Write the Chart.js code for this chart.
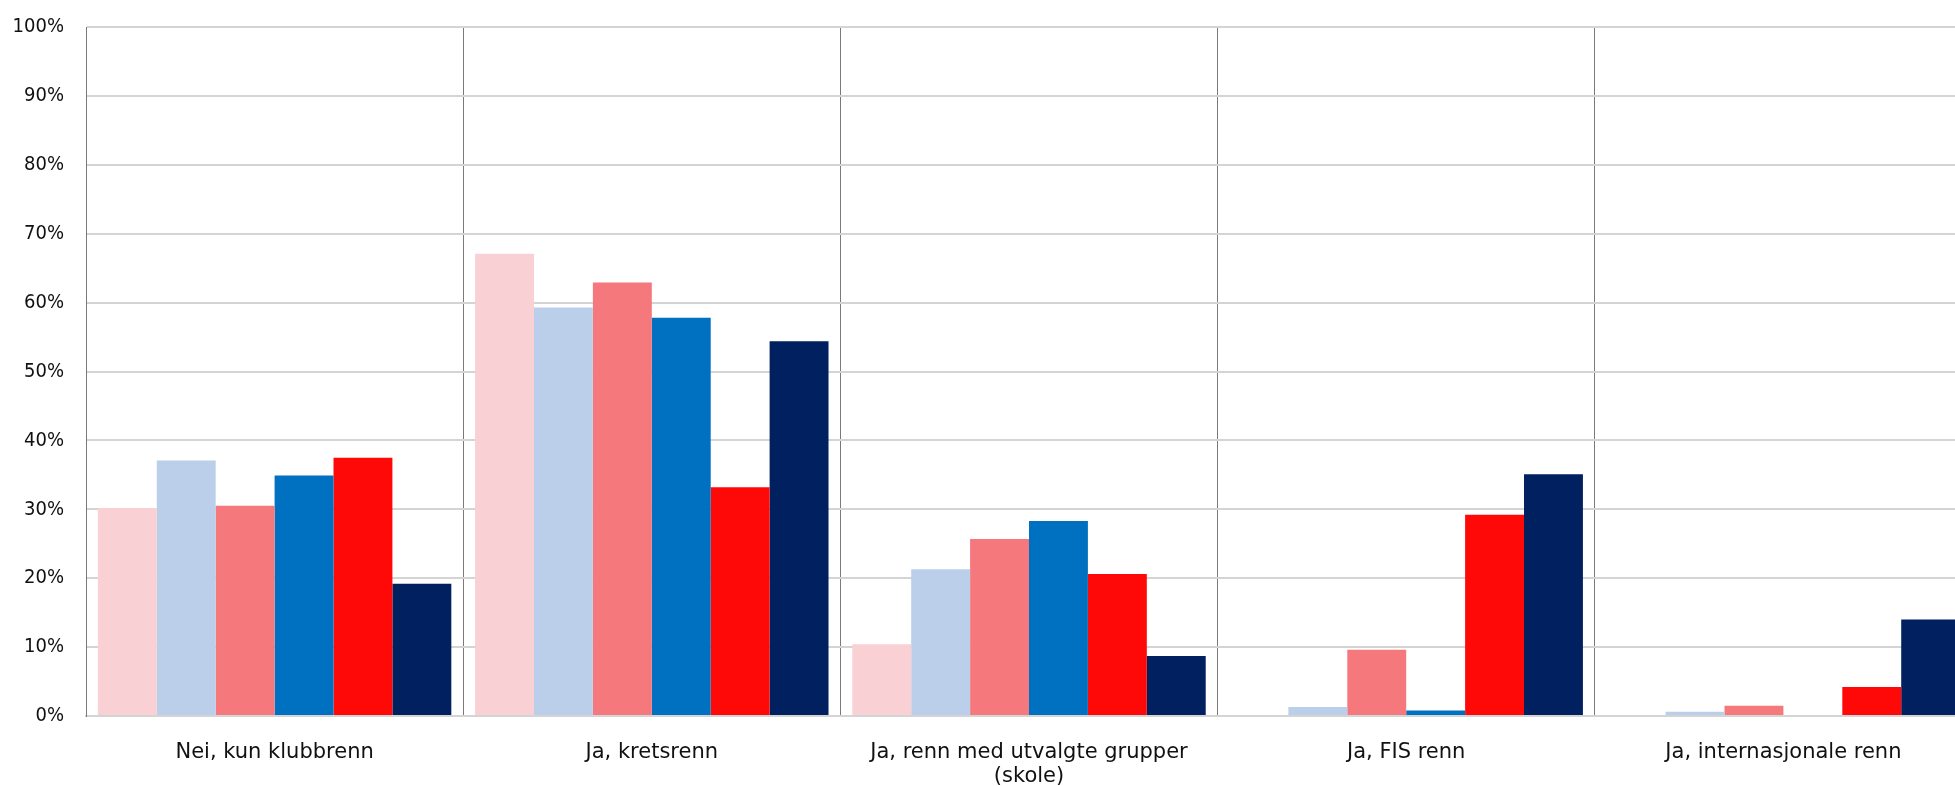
<!DOCTYPE html>
<html>
<head>
<meta charset="utf-8">
<script src="https://cdn.jsdelivr.net/npm/chart.js@4"></script>
<style>
  html, body { margin: 0; padding: 0; background: #fff; overflow: hidden; }
  #chart { display: block; }
</style>
</head>
<body>
<canvas id="chart" width="1972" height="786"></canvas>
<script>
const categories = [
  "Nei, kun klubbrenn",
  "Ja, kretsrenn",
  ["Ja, renn med utvalgte grupper", "(skole)"],
  "Ja, FIS renn",
  "Ja, internasjonale renn"
];

const series1 = [30.2, 67.1, 10.4, 0, 0];
const series2 = [37.1, 59.3, 21.3, 1.3, 0.6];
const series3 = [30.5, 62.9, 25.7, 9.6, 1.5];
const series4 = [34.9, 57.8, 28.3, 0.8, 0];
const series5 = [37.5, 33.2, 20.6, 29.2, 4.2];
const series6 = [19.2, 54.4, 8.7, 35.1, 14.0];

const colors = ["#F9D1D4", "#BBCFEA", "#F4787C", "#0070C0", "#FF0808", "#002060"];
const yTicks = [0, 10, 20, 30, 40, 50, 60, 70, 80, 90, 100];

const ctx = document.getElementById("chart");

new Chart(ctx, {
  type: "bar",
  data: {
    labels: categories,
    datasets: [series1, series2, series3, series4, series5, series6].map((d, i) => ({
      label: "Serie " + (i + 1),
      data: d,
      backgroundColor: colors[i],
      borderWidth: 0,
      categoryPercentage: 0.937,
      barPercentage: 1,
    })),
  },
  options: {
    responsive: false,
    animation: false,
    layout: { padding: { top: 25, right: 0, bottom: 0, left: 0 } },
    plugins: {
      legend: { display: false },
      tooltip: { enabled: false },
    },
    scales: {
      x: {
        grid: { offset: true, color: "#7a7a7a", lineWidth: 1, drawTicks: false },
        border: { color: "#d4d4d4", width: 2 },
        ticks: {
          color: "#111",
          font: { family: "'DejaVu Sans', sans-serif", size: 21, lineHeight: 1.12 },
          padding: 25,
          maxRotation: 0,
          autoSkip: false,
        },
        afterFit: (s) => { s.height = 70; },
      },
      y: {
        min: 0,
        max: 100,
        afterBuildTicks: (s) => { s.ticks = yTicks.map(v => ({ value: v })); },
        grid: { color: "#d4d4d4", lineWidth: 2, drawTicks: false },
        border: { color: "#7a7a7a", width: 1 },
        ticks: {
          color: "#111",
          font: { family: "'DejaVu Sans Condensed', 'DejaVu Sans', sans-serif", size: 20, lineHeight: 0.5 },
          padding: 22,
          callback: (v) => v + "%",
        },
        afterFit: (s) => { s.width = 86; },
      },
    },
  },
});
</script>
</body>
</html>
